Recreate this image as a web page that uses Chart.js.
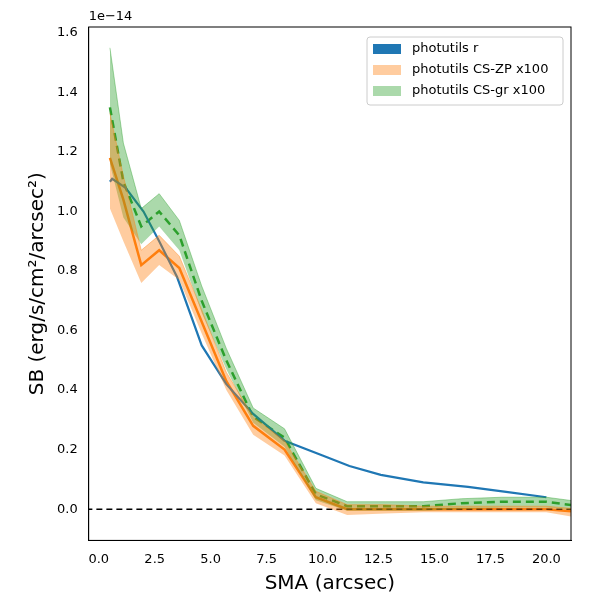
<!DOCTYPE html>
<html><head><meta charset="utf-8">
<script src="https://cdn.jsdelivr.net/npm/chart.js@4/dist/chart.umd.min.js"></script>
<style>body{margin:0;background:#fff}#wrap{width:600px;height:600px}</style>
</head><body><div id="wrap"><canvas id="c"></canvas></div>
<script>
// values in units of 1e-14
const smaBlue = [0.5, 0.6, 1.2, 2.0, 2.7, 3.5, 4.6, 5.7, 6.9, 8.3, 10.0, 11.2, 12.6, 14.5, 16.5, 18.2, 20.0];
const sbBlue = [1.10, 1.11, 1.08, 1.00, 0.90, 0.78, 0.55, 0.42, 0.32, 0.23, 0.18, 0.145, 0.115, 0.09, 0.075, 0.058, 0.04];
const smaCS = [0.5, 1.1, 1.9, 2.7, 3.6, 4.6, 5.7, 6.9, 8.3, 9.7, 11.1, 12.8, 14.5, 16.2, 18.0, 20.0, 21.5];
const zpMid = [1.18, 1.04, 0.82, 0.87, 0.81, 0.63, 0.43, 0.28, 0.20, 0.04, 0.00, 0.00, 0.00, 0.00, 0.00, 0.00, -0.01];
const zpLow = [1.01, 0.90, 0.76, 0.82, 0.77, 0.59, 0.40, 0.25, 0.18, 0.02, -0.02, -0.015, -0.01, -0.01, -0.01, -0.01, -0.03];
const zpHigh = [1.33, 1.12, 0.87, 0.92, 0.85, 0.67, 0.46, 0.31, 0.23, 0.06, 0.015, 0.015, 0.01, 0.01, 0.01, 0.01, 0.0];
const grMid = [1.35, 1.10, 0.95, 1.00, 0.92, 0.70, 0.50, 0.31, 0.24, 0.05, 0.01, 0.01, 0.01, 0.02, 0.025, 0.025, 0.01];
const grLow = [1.16, 0.98, 0.89, 0.95, 0.87, 0.66, 0.47, 0.29, 0.21, 0.03, -0.005, -0.005, -0.005, 0.0, 0.005, 0.005, -0.005];
const grHigh = [1.55, 1.23, 1.01, 1.06, 0.97, 0.75, 0.54, 0.34, 0.27, 0.07, 0.025, 0.025, 0.025, 0.035, 0.04, 0.04, 0.025];
const xTicks = [0, 2.5, 5, 7.5, 10, 12.5, 15, 17.5, 20];
const yTicks = [0, 0.2, 0.4, 0.6, 0.8, 1.0, 1.2, 1.4, 1.6];

const pts = (xs, ys) => xs.map((x, i) => ({x, y: ys[i]}));
const line = {pointRadius: 0, tension: 0, fill: false, showLine: true};

const extras = {
  id: 'extras',
  afterDraw(chart) {
    const {ctx, chartArea: a} = chart;
    ctx.save();
    ctx.strokeStyle = '#000'; ctx.lineWidth = 1;
    ctx.strokeRect(a.left, a.top, a.right - a.left, a.bottom - a.top);
    ctx.fillStyle = '#000';
    ctx.font = '13px "DejaVu Sans"';
    ctx.textAlign = 'left'; ctx.textBaseline = 'bottom';
    ctx.fillText('1e\u221214', a.left, a.top - 4);
    // legend
    const items = [['#1f77b4', 1, 'photutils r'], ['#ff7f0e', 0.4, 'photutils CS-ZP x100'], ['#2ca02c', 0.4, 'photutils CS-gr x100']];
    const lx = 367, ly = 37, w = 196, h = 68;
    ctx.fillStyle = 'rgba(255,255,255,0.8)';
    ctx.strokeStyle = '#ccc';
    ctx.beginPath(); ctx.roundRect(lx, ly, w, h, 3); ctx.fill(); ctx.stroke();
    ctx.textBaseline = 'middle';
    items.forEach(([c, al, t], i) => {
      const y = ly + 12 + i * 21;
      ctx.globalAlpha = al; ctx.fillStyle = c;
      ctx.fillRect(lx + 6, y - 5, 28, 10);
      ctx.globalAlpha = 1; ctx.fillStyle = '#000';
      ctx.fillText(t, lx + 45, y);
    });
    ctx.restore();
  }
};

new Chart(document.getElementById('c'), {
  type: 'scatter',
  data: {datasets: [
    {...line, data: pts(smaCS, zpLow), borderWidth: 0, backgroundColor: 'rgba(255,127,14,0.4)'},
    {...line, data: pts(smaCS, zpHigh), borderWidth: 1, borderColor: 'rgba(255,127,14,0.4)', backgroundColor: 'rgba(255,127,14,0.4)', fill: '-1'},
    {...line, data: pts(smaCS, grLow), borderWidth: 0, backgroundColor: 'rgba(44,160,44,0.4)'},
    {...line, data: pts(smaCS, grHigh), borderWidth: 1, borderColor: 'rgba(44,160,44,0.4)', backgroundColor: 'rgba(44,160,44,0.4)', fill: '-1'},
    {...line, data: [{x: -1, y: 0}, {x: 22, y: 0}], borderColor: '#000', borderWidth: 1.5, borderDash: [6, 4]},
    {...line, data: pts(smaBlue, sbBlue), borderColor: '#1f77b4', borderWidth: 2.2},
    {...line, data: pts(smaCS, zpMid), borderColor: '#ff7f0e', borderWidth: 2.5},
    {...line, data: pts(smaCS, grMid), borderColor: '#2ca02c', borderWidth: 2.5, borderDash: [8, 5]}
  ]},
  options: {
    responsive: true, maintainAspectRatio: false, animation: false,
    layout: {padding: {top: 27, right: 29, left: 22, bottom: 0}},
    plugins: {legend: {display: false}, tooltip: {enabled: false}},
    scales: {
      x: {min: -0.45, max: 21.1, grid: {display: false}, border: {color: '#000'},
        afterBuildTicks: s => { s.ticks = xTicks.map(v => ({value: v})); },
        ticks: {color: '#000', font: {size: 13, family: 'DejaVu Sans'}, callback: v => v.toFixed(1), maxRotation: 0},
        title: {display: true, text: 'SMA (arcsec)', color: '#000', font: {size: 20, family: 'DejaVu Sans'}, padding: {top: 2}}},
      y: {min: -0.105, max: 1.62, grid: {display: false}, border: {color: '#000'},
        afterBuildTicks: s => { s.ticks = yTicks.map(v => ({value: v})); },
        ticks: {color: '#000', font: {size: 13, family: 'DejaVu Sans'}, callback: v => v.toFixed(1)},
        title: {display: true, text: 'SB (erg/s/cm\u00b2/arcsec\u00b2)', color: '#000', font: {size: 20, family: 'DejaVu Sans'}}}
    }
  },
  plugins: [extras]
});
</script></body></html>
